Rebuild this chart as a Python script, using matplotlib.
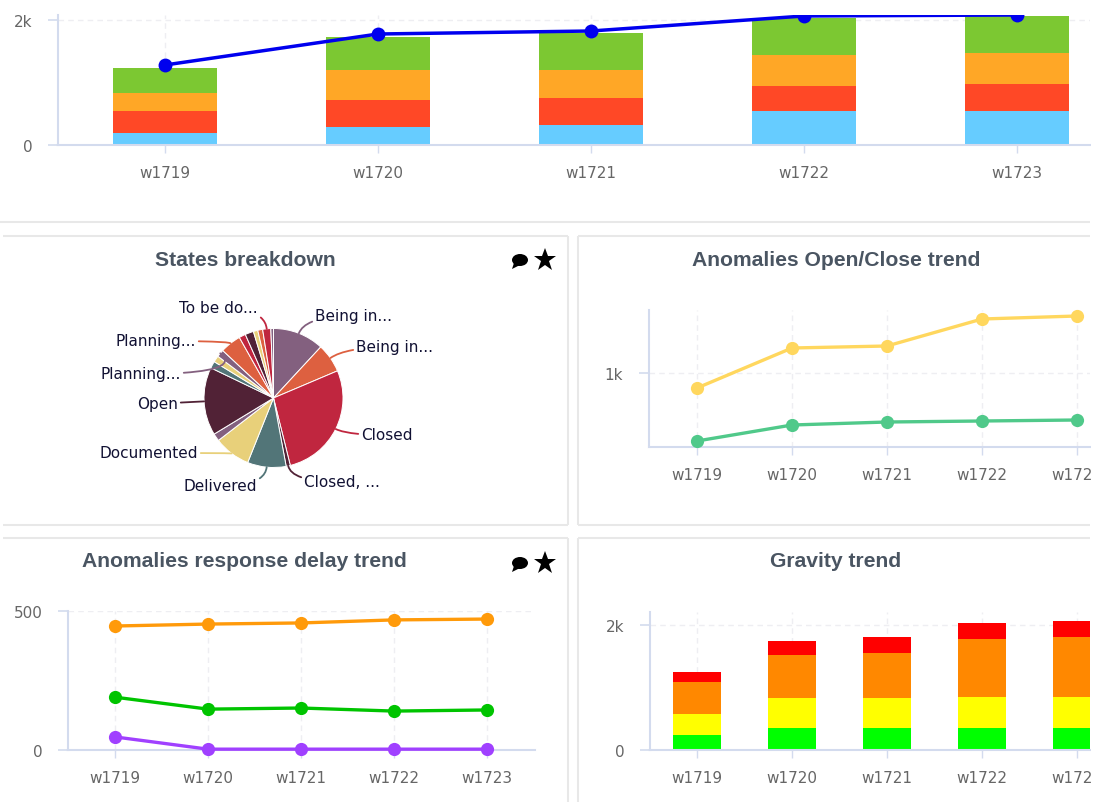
import matplotlib
matplotlib.use("Agg")
import numpy as np
import matplotlib.pyplot as plt
from matplotlib.patches import Ellipse, Polygon, Rectangle

W, H = 1095, 803
weeks = ["w1719", "w1720", "w1721", "w1722", "w1723"]

top_blue = [190, 288, 320, 544, 544]
top_red = [354, 432, 432, 400, 432]
top_orange = [288, 480, 448, 496, 496]
top_green = [400, 528, 590, 592, 592]
top_line = [1280, 1776, 1824, 2064, 2080]

grav_green = [240, 352, 352, 352, 352]
grav_yellow = [336, 480, 480, 496, 496]
grav_orange = [512, 688, 720, 928, 960]
grav_red = [160, 224, 256, 256, 256]

open_line = [850, 1250, 1270, 1540, 1570]
close_line = [320, 480, 510, 520, 530]

delay_orange = [446, 453, 457, 468, 471]
delay_green = [190, 147, 151, 140, 144]
delay_purple = [47, 3, 3, 3, 3]

pie_values = [42.8, 24.2, 99, 3.5, 32.3, 30.6, 6.3, 57, 5.8, 5.4, 6.2, 17.5, 5.5, 7.1, 3.7, 4.1, 6.8, 2.2]
pie_colors = ["#83607f", "#dd6040", "#c0263f", "#512236", "#527578", "#e8d07a", "#83607f", "#512236",
              "#527578", "#e8d07a", "#83607f", "#dd6040", "#c0263f", "#512236", "#e8d07a", "#dd6040",
              "#c0263f", "#83607f"]
pie_labels = {0: ("Being in...", 315, 316, "left"), 1: ("Being in...", 356, 347, "left"),
              2: ("Closed", 361, 435, "left"), 3: ("Closed, ...", 304, 482, "left"),
              4: ("Delivered", 257, 486, "right"), 5: ("Documented", 198, 453, "right"),
              7: ("Open", 178, 404, "right"), 10: ("Planning...", 181, 374, "right"),
              11: ("Planning...", 196, 341, "right"), 16: ("To be do...", 258, 308, "right")}

AXC = "#d3dbee"
GRC = "#eeeef2"
TXT = "#666666"
TITLE = "#4a5562"
FONT = "DejaVu Sans"

fig = plt.figure(figsize=(W / 100, H / 100), dpi=100, facecolor="white")
bg = fig.add_axes([0, 0, 1, 1], zorder=0)
bg.set_xlim(0, W); bg.set_ylim(H - 1, -1); bg.axis("off")


def make_axes(left, right, top, bottom, x0, dx, ppu, ymin, yticks, ylabels):
    top += 1
    bottom += 1
    ax = fig.add_axes([left / W, 1 - bottom / H, (right - left) / W, (bottom - top) / H], zorder=2)
    ax.patch.set_alpha(0)
    ax.set_xlim((left - x0) / dx, (right - x0) / dx)
    ax.set_ylim(ymin, ymin + (bottom - top) / ppu)
    for s in ("top", "right"):
        ax.spines[s].set_visible(False)
    for s in ("left", "bottom"):
        ax.spines[s].set_color(AXC)
        ax.spines[s].set_linewidth(1.5)
    ax.set_xticks(range(5))
    ax.set_xticklabels(weeks, fontsize=11, color=TXT, family=FONT)
    ax.set_yticks(yticks)
    ax.set_yticklabels(ylabels, fontsize=11, color=TXT, family=FONT)
    ax.tick_params(axis="x", length=5.8, width=1, color=AXC, pad=8.5)
    ax.tick_params(axis="y", length=7.5, width=1.2, color=AXC, pad=11)
    ax.grid(True, color=GRC, lw=1, ls=(0, (4, 3)))
    ax.set_axisbelow(True)
    return ax


def stack(ax, series, colors, width):
    bottom = np.zeros(5)
    for vals, c in zip(series, colors):
        ax.bar(range(5), vals, width, bottom=bottom, color=c, linewidth=0, zorder=2)
        bottom += np.array(vals)


def line(ax, vals, color, lw=2.4, ms=9.5):
    ax.plot(range(5), vals, color=color, lw=lw, marker="o", ms=ms, mew=0, zorder=3, clip_on=False)


# panel frames
for seg in [((0, 222), (1090, 222)),
            ((3, 236), (568, 236)), ((3, 525), (568, 525)), ((568, 236), (568, 525)),
            ((578, 236), (1090, 236)), ((578, 525), (1090, 525)), ((578, 236), (578, 525)),
            ((3, 538), (568, 538)), ((568, 538), (568, 803)),
            ((578, 538), (1090, 538)), ((578, 538), (578, 803))]:
    bg.plot(*zip(*seg), color="#e8e8e8", lw=1.5, solid_capstyle="butt")

# top chart
a = make_axes(58, 1090, 15, 145, 165, 213, 0.0625, 0, [0, 2000], ["0", "2k"])
stack(a, [top_blue, top_red, top_orange, top_green], ["#66ccff", "#ff4826", "#ffa726", "#7cc832"], 0.485)
a.plot(range(5), top_line, color="#0000ee", lw=2.5, marker="o", ms=10, mew=0, zorder=3)

# open / close trend
a = make_axes(649, 1090, 310, 447, 697, 95, 0.1, 260, [1000], ["1k"])
line(a, open_line, "#ffd75e")
line(a, close_line, "#50c98a")

# response delay
a = make_axes(68, 535, 611, 750, 115, 93, 0.278, 0, [0, 500], ["0", "500"])
line(a, delay_orange, "#ff9a0a")
line(a, delay_green, "#00c400")
line(a, delay_purple, "#a040ff")

# gravity
a = make_axes(650, 1090, 612, 750, 697, 95, 0.0625, 0, [0, 2000], ["0", "2k"])
stack(a, [grav_green, grav_yellow, grav_orange, grav_red], ["#00ff00", "#ffff00", "#ff8800", "#ff0000"], 0.5)

# pie
cx, cy, R = 273.5, 398, 69.5
pa = fig.add_axes([(cx - R) / W, 1 - (cy + 1 + R) / H, 2 * R / W, 2 * R / H], zorder=2)
pa.pie(pie_values, colors=pie_colors, startangle=90, counterclock=False, radius=1,
       wedgeprops=dict(edgecolor="white", linewidth=0.7))
pa.set_xlim(-1, 1); pa.set_ylim(-1, 1)

# overlay
ov = fig.add_axes([0, 0, 1, 1], zorder=5)
ov.set_xlim(0, W); ov.set_ylim(H - 1, -1); ov.axis("off"); ov.patch.set_alpha(0)

edges = np.cumsum([0] + pie_values) / sum(pie_values) * 2 * np.pi
for i, (txt, x, y, ha) in pie_labels.items():
    ang = (edges[i] + edges[i + 1]) / 2
    px, py = cx + R * np.sin(ang), cy - R * np.cos(ang)
    radial = np.degrees(np.arctan2(np.cos(ang), np.sin(ang)))
    ov.annotate(txt, xy=(px, py), xytext=(x, y), ha=ha, va="center", fontsize=11, color="#111133",
                family=FONT,
                arrowprops=dict(arrowstyle="-", color=pie_colors[i], lw=1.3, shrinkA=0, shrinkB=0,
                                connectionstyle=f"angle3,angleA=0,angleB={radial:.1f}"))

for txt, x, y in [("States breakdown", 245, 260), ("Anomalies Open/Close trend", 836, 260),
                  ("Anomalies response delay trend", 244, 561), ("Gravity trend", 836, 561)]:
    ov.text(x, y, txt, ha="center", va="center", fontsize=15.2, fontweight="bold", color=TITLE,
            family="Liberation Sans")

for y in (260, 563):
    ov.add_patch(Ellipse((520, y), 16, 12, color="black", lw=0))
    ov.add_patch(Polygon([(514, y + 3), (520, y + 5), (512, y + 9)], color="black", lw=0))
    ov.plot([545], [y], marker="*", ms=17, color="black", mew=0)

ov.add_patch(Rectangle((1091, -1), 4, H + 1, color="white", lw=0))

fig.savefig("out.png", dpi=100)
